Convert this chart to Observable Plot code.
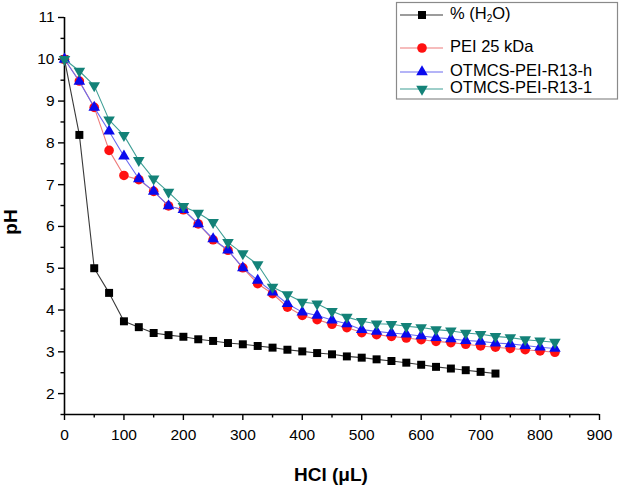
<!DOCTYPE html>
<html>
<head>
<meta charset="utf-8">
<script src="https://cdn.jsdelivr.net/npm/d3@7"></script>
<script src="https://cdn.jsdelivr.net/npm/@observablehq/plot@0.6"></script>
<style>
  html, body { margin: 0; padding: 0; background: #fff; }
  #chart { position: relative; width: 626px; height: 487px; }
</style>
</head>
<body>
<div id="chart"></div>
<script>
// HCl volume (µL)
const hclH2O = [0,25,50,75,100,125,150,175,200,225,250,275,300,325,350,375,400,425,450,475,500,525,550,575,600,625,650,675,700,725];
const hclPEI = [0,25,50,75,100,125,150,175,200,225,250,275,300,325,350,375,400,425,450,475,500,525,550,575,600,625,650,675,700,725,750,775,800,825];

// pH values
const phH2O  = [10.0,8.19,5.0,4.41,3.73,3.59,3.45,3.40,3.36,3.30,3.26,3.21,3.18,3.14,3.10,3.05,3.01,2.97,2.94,2.89,2.86,2.82,2.78,2.74,2.69,2.64,2.60,2.56,2.52,2.48];
const phPEI25 = [10.0,9.48,8.85,7.82,7.22,7.12,6.84,6.49,6.40,6.06,5.68,5.43,5.01,4.63,4.39,4.07,3.87,3.77,3.66,3.58,3.46,3.41,3.37,3.33,3.29,3.25,3.22,3.18,3.14,3.11,3.08,3.05,3.02,2.99];
const phR13h = [10.0,9.47,8.85,8.28,7.68,7.14,6.84,6.49,6.40,6.06,5.70,5.43,5.01,4.71,4.43,4.15,3.95,3.87,3.76,3.67,3.53,3.49,3.45,3.42,3.38,3.34,3.31,3.27,3.25,3.21,3.19,3.15,3.11,3.08];
const phR131 = [10.0,9.72,9.37,8.55,8.18,7.58,7.14,6.82,6.48,6.32,6.10,5.62,5.35,5.09,4.55,4.37,4.19,4.15,3.97,3.83,3.73,3.67,3.66,3.61,3.58,3.53,3.50,3.45,3.42,3.37,3.34,3.29,3.26,3.23];

const seriesNames = ["% (H₂O)", "PEI 25 kDa", "OTMCS-PEI-R13-h", "OTMCS-PEI-R13-1"];

// tick values
const xMajor = [0,100,200,300,400,500,600,700,800,900];
const xMinor = [50,150,250,350,450,550,650,750,850];
const yMajor = [2,3,4,5,6,7,8,9,10,11];
const yMinor = [1.5,2.5,3.5,4.5,5.5,6.5,7.5,8.5,9.5,10.5];

const series = [
  {name: seriesNames[0], x: hclH2O, y: phH2O,  line: "#3a3a3a", fill: "#000000", symbol: "square",   r: 4.5, rotate: 0},
  {name: seriesNames[1], x: hclPEI, y: phPEI25, line: "#ee7b7b", fill: "#ff1010", symbol: "circle",   r: 4.8, rotate: 0},
  {name: seriesNames[2], x: hclPEI, y: phR13h, line: "#6a6af0", fill: "#0a0aee", symbol: "triangle", r: 4.3, rotate: 0},
  {name: seriesNames[3], x: hclPEI, y: phR131, line: "#3f9f96", fill: "#138278", symbol: "triangle", r: 4.3, rotate: 180}
];

const marks = [];
for (const s of series) {
  const rows = s.x.map((v, i) => ({x: v, y: s.y[i]}));
  marks.push(Plot.line(rows, {x: "x", y: "y", stroke: s.line, strokeWidth: 1.1}));
  marks.push(Plot.dot(rows, {x: "x", y: "y", symbol: s.symbol, r: s.r, fill: s.fill, stroke: "none", rotate: s.rotate}));
}

const plot = Plot.plot({
  width: 626,
  height: 487,
  marginLeft: 64,
  marginRight: 27,
  marginTop: 17,
  marginBottom: 73,
  style: {fontFamily: "'Liberation Sans', Arial, sans-serif", fontSize: "15px", color: "#000", background: "#fff"},
  x: {domain: [0, 900]},
  y: {domain: [1.5, 11]},
  marks: [
    Plot.axisX({ticks: xMajor, tickSize: 6, tickPadding: 8, tickFormat: d => String(d), label: null, fontSize: 15.5, strokeWidth: 1.4}),
    Plot.axisX({ticks: xMinor, tickSize: 3.5, tickFormat: () => "", label: null, strokeWidth: 1.4}),
    Plot.axisY({ticks: yMajor, tickSize: 6, tickPadding: 4, tickFormat: d => String(d), label: null, fontSize: 15.5, strokeWidth: 1.4}),
    Plot.axisY({ticks: yMinor, tickSize: 3.5, tickFormat: () => "", label: null, strokeWidth: 1.4}),
    Plot.ruleX([0], {stroke: "#000", strokeWidth: 1.6}),
    Plot.ruleY([1.5], {stroke: "#000", strokeWidth: 1.6}),
    ...marks
  ]
});

const svg = d3.select(plot);

// axis titles
svg.append("text")
  .attr("transform", "translate(12,222) rotate(-90)")
  .attr("text-anchor", "middle")
  .attr("dominant-baseline", "middle")
  .attr("font-family", "'Liberation Sans', Arial, sans-serif")
  .attr("font-weight", "bold")
  .attr("font-size", 19)
  .text("pH");

svg.append("text")
  .attr("x", 331)
  .attr("y", 476)
  .attr("text-anchor", "middle")
  .attr("dominant-baseline", "middle")
  .attr("font-family", "'Liberation Sans', Arial, sans-serif")
  .attr("font-weight", "bold")
  .attr("font-size", 19)
  .text("HCl (μL)");

// legend
const lg = svg.append("g");
lg.append("rect")
  .attr("x", 396.5).attr("y", 2.5).attr("width", 221).attr("height", 96.5)
  .attr("fill", "#fff").attr("stroke", "#8a8a8a").attr("stroke-width", 1.2);

const rowsY = [15, 48, 72, 89];
const symbolMap = {square: d3.symbolSquare, circle: d3.symbolCircle, triangle: d3.symbolTriangle};
series.forEach((s, i) => {
  const y = rowsY[i];
  lg.append("line").attr("x1", 400).attr("x2", 443).attr("y1", y).attr("y2", y)
    .attr("stroke", s.line).attr("stroke-width", 1.1);
  lg.append("path")
    .attr("d", d3.symbol(symbolMap[s.symbol], Math.PI * s.r * s.r)())
    .attr("transform", `translate(422,${y}) rotate(${s.rotate})`)
    .attr("fill", s.fill);
  const t = lg.append("text").attr("x", 450).attr("y", y)
    .attr("text-anchor", "start")
    .attr("dominant-baseline", "middle")
    .attr("font-family", "'Liberation Sans', Arial, sans-serif")
    .attr("font-size", 16.5);
  if (i === 0) {
    t.append("tspan").text("% (H");
    t.append("tspan").attr("font-size", 10).attr("dy", 4).text("2");
    t.append("tspan").attr("dy", -4).text("O)");
  } else {
    t.text(s.name);
  }
});

document.getElementById("chart").appendChild(plot);
</script>
</body>
</html>
